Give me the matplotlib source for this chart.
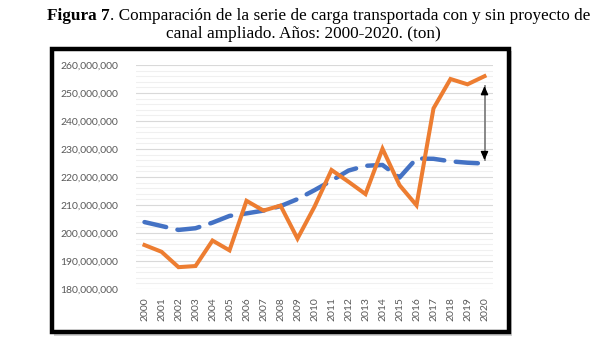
import matplotlib
matplotlib.use("Agg")
import matplotlib.pyplot as plt
from matplotlib.patches import Rectangle
from matplotlib.ticker import FuncFormatter, MultipleLocator

years = list(range(2000, 2021))
con_proyecto = [195.7, 193.3, 187.8, 188.2, 197.3, 193.8, 211.5, 208.0, 209.8, 198.0,
                209.4, 222.5, 218.3, 213.9, 230.1, 217.1, 209.9, 244.5, 255.0, 253.1, 256.0]
sin_proyecto = [203.9, 202.5, 201.1, 201.7, 203.7, 206.1, 207.0, 208.0, 209.6, 212.1,
                215.3, 218.7, 222.3, 224.0, 224.3, 219.8, 226.6, 226.5, 225.6, 225.1, 224.8]
arrow_top = 252.5
arrow_bottom = 226.0
scale = 1e6

W, H = 602, 343
fig = plt.figure(figsize=(W / 100, H / 100), dpi=100)
fig.patch.set_facecolor("white")


def fx(px):
    return px / W


def fy(py):
    return 1 - py / H


shadow = Rectangle((fx(54), fy(336)), fx(512) - fx(54), fy(51) - fy(336),
                   transform=fig.transFigure, facecolor="#cfcfcf", edgecolor="none",
                   zorder=0)
fig.patches.append(shadow)
frame = Rectangle((fx(51.5), fy(332)), fx(509) - fx(51.5), fy(48.5) - fy(332),
                  transform=fig.transFigure, facecolor="white", edgecolor="black",
                  linewidth=3.2, zorder=1)
fig.patches.append(frame)

ax = fig.add_axes([fx(136), fy(289), fx(493) - fx(136), fy(65) - fy(289)])
ax.set_zorder(2)
ax.patch.set_alpha(0)

x = list(range(len(years)))
ax.plot(x, [v * scale for v in sin_proyecto], color="#4472C4", linewidth=3.2,
        dashes=(5.0, 2.6), dash_capstyle="round", zorder=3)
ax.plot(x, [v * scale for v in con_proyecto], color="#ED7D31", linewidth=2.9,
        solid_joinstyle="miter", zorder=4)

# double arrow
xa = x[-1]
ax.plot([xa, xa], [arrow_bottom * scale, arrow_top * scale], color="#7f7f7f",
        linewidth=1.3, zorder=5)
for tip, sgn in ((arrow_top, -1), (arrow_bottom, 1)):
    ax.annotate("", xy=(xa, tip * scale), xytext=(xa, (tip + sgn * 2.5) * scale),
                arrowprops=dict(arrowstyle="-|>,head_length=0.5,head_width=0.22",
                                color="black", lw=1.0, shrinkA=0, shrinkB=0),
                zorder=6)

ax.set_xlim(-0.5, len(years) - 0.5)
ax.set_ylim(180 * scale, 260 * scale)
ax.yaxis.set_major_locator(MultipleLocator(10 * scale))
ax.yaxis.set_minor_locator(MultipleLocator(2 * scale))
ax.yaxis.set_major_formatter(FuncFormatter(lambda v, p: f"{v:,.0f}"))
ax.set_xticks(x)
ax.set_xticklabels([str(y) for y in years], rotation=90)

ax.grid(axis="y", which="major", color="#d9d9d9", linewidth=0.8, zorder=1)
ax.grid(axis="y", which="minor", color="#f0f0f0", linewidth=0.8, zorder=1)
ax.set_axisbelow(True)
for s in ax.spines.values():
    s.set_visible(False)
ax.tick_params(axis="both", which="both", length=0, colors="#595959")
ax.tick_params(axis="y", pad=13)
ax.tick_params(axis="x", pad=6)
for lab in ax.get_yticklabels() + ax.get_xticklabels():
    lab.set_fontfamily("Lato")
    lab.set_fontsize(7.5)
    lab.set_color("#595959")

# title
fs = 12.4
rest = fig.text(fx(590), fy(20.5),
                ". Comparación de la serie de carga transportada con y sin proyecto de",
                fontsize=fs, family="Liberation Serif", ha="right", va="baseline")
fig.canvas.draw()
ext = rest.get_window_extent(fig.canvas.get_renderer())
fig.text(ext.x0 / W, fy(20.5), "Figura 7", fontsize=fs, family="Liberation Serif",
         fontweight="bold", ha="right", va="baseline")
fig.text(fx(303), fy(37.5), "canal ampliado. Años: 2000-2020. (ton)",
         fontsize=fs, family="Liberation Serif", ha="center", va="baseline")

fig.savefig("out.png", dpi=100)
